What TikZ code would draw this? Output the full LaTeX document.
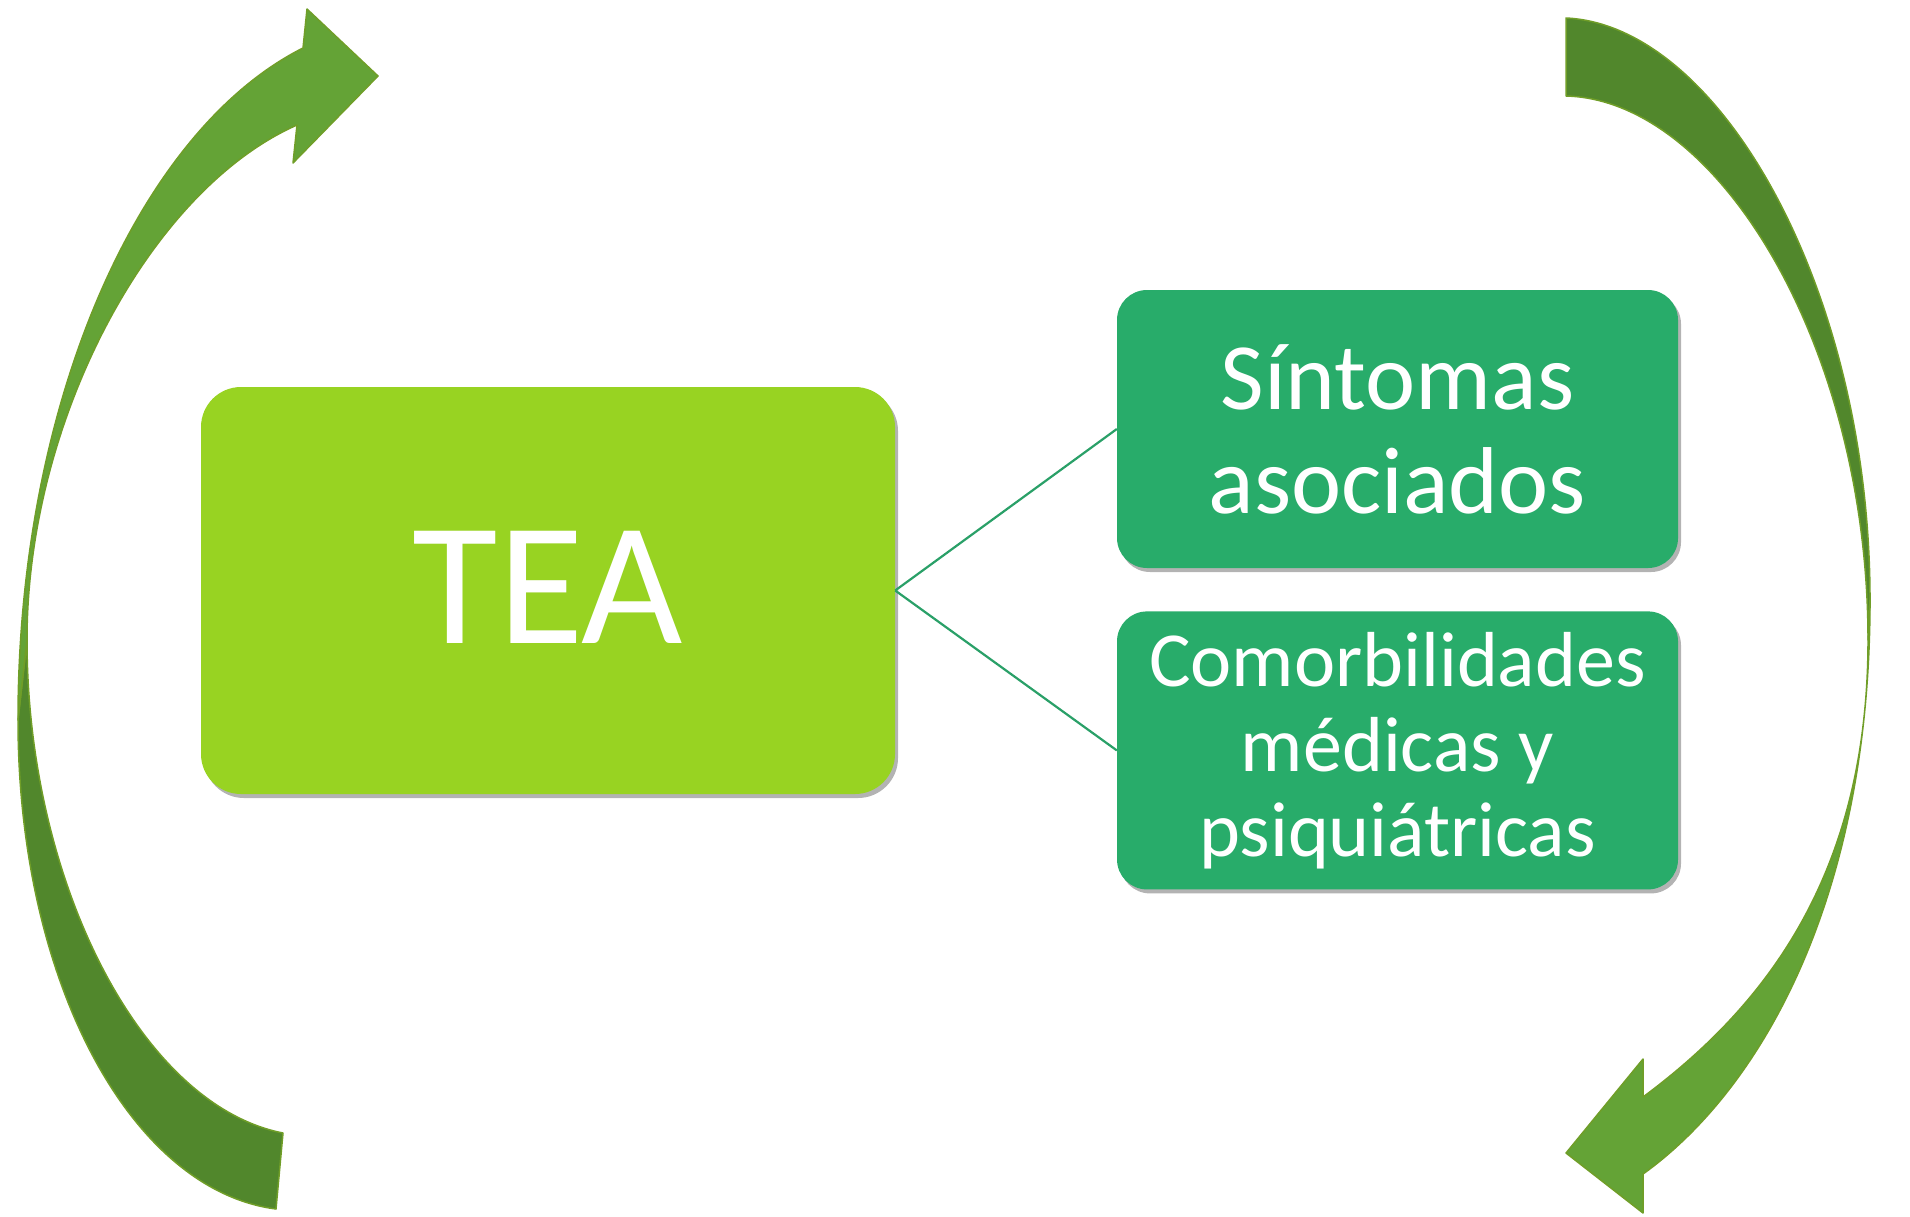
\documentclass[tikz,border=0pt]{standalone}
\usepackage{fontspec}
\setmainfont{Carlito}
\usetikzlibrary{positioning, shadows}
\definecolor{teagreen}{RGB}{152,211,34}
\definecolor{subgreen}{RGB}{40,172,106}
\definecolor{linkgreen}{RGB}{42,160,104}
\definecolor{bendlight}{RGB}{100,163,54}
\definecolor{benddark}{RGB}{81,135,44}
\definecolor{bendedge}{RGB}{112,158,40}
\tikzstyle{mainbox} = [rectangle, rounded corners=40pt, fill=teagreen, text=white, minimum width=694pt, minimum height=407pt, drop shadow={shadow xshift=3pt, shadow yshift=-4pt, opacity=0.6}, font=\fontsize{175}{204}\selectfont]
\tikzstyle{subbox} = [rectangle, rounded corners=30pt, fill=subgreen, text=white, align=center, minimum width=561pt, minimum height=278pt, drop shadow={shadow xshift=3pt, shadow yshift=-4pt, opacity=0.6}]
\tikzstyle{link} = [draw=linkgreen, line width=2.2pt]
\tikzstyle{bendpart} = [draw=bendedge, line width=1.5pt, line join=round]

\begin{document}
\begin{tikzpicture}[x=1pt, y=-1pt]
    \useasboundingbox (0,0) rectangle (1910,1216);

    % Left curved arrow (going up)
    \filldraw [bendpart, fill=benddark] (18,720)
        .. controls (18,980) and (130,1190) .. (276,1209)
        -- (283,1133)
        .. controls (140,1105) and (27,880) .. (27,640)
        -- cycle;
    \filldraw [bendpart, fill=bendlight] (378,76) -- (307,9) -- (303,48)
        .. controls (140,130) and (18,400) .. (18,720)
        -- (27,640)
        .. controls (27,420) and (150,190) .. (297,125)
        -- (293,163) -- cycle;

    % Right curved arrow (going down)
    \filldraw [bendpart, fill=benddark] (1566,18)
        .. controls (1720,25) and (1870,290) .. (1870,600)
        -- (1868,640)
        .. controls (1868,350) and (1720,100) .. (1566,96)
        -- cycle;
    \filldraw [bendpart, fill=bendlight] (1870,600)
        .. controls (1870,900) and (1760,1090) .. (1643,1174)
        -- (1643,1213) -- (1566,1153) -- (1643,1059) -- (1643,1097)
        .. controls (1760,1010) and (1868,880) .. (1868,640)
        -- cycle;

    % Boxes
    \node (tea) [mainbox] at (548,590.5) {\raisebox{6pt}{TEA}};
    \node (sint) [subbox, font=\fontsize{95}{104}\selectfont] at (1397.5,429) {Síntomas\\asociados};
    \node (comorb) [subbox, below=43pt of sint, font=\fontsize{78}{85}\selectfont] {Comorbilidades\\médicas y\\psiquiátricas};

    % ==== Links
    \draw [link] (tea.east) -- (sint.west);
    \draw [link] (tea.east) -- (comorb.west);

\end{tikzpicture}
\end{document}
